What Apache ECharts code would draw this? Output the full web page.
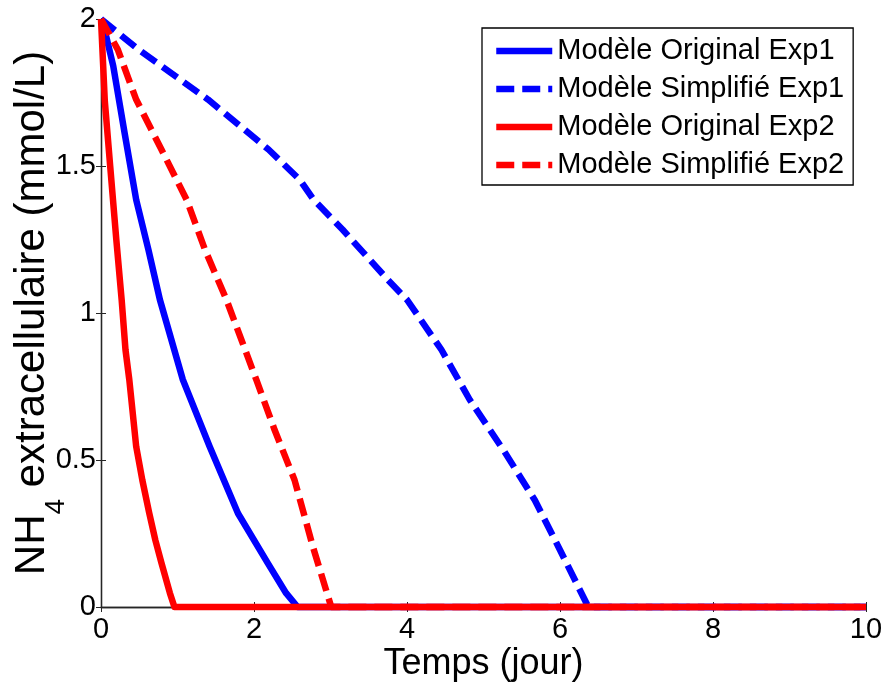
<!DOCTYPE html>
<html>
<head>
<meta charset="utf-8">
<script src="https://cdn.jsdelivr.net/npm/echarts@6/dist/echarts.min.js"></script>
<style>
html,body{margin:0;padding:0;background:#fff;}
#chart{width:883px;height:682px;}
</style>
</head>
<body>
<div id="chart"></div>
<script>
// Data
const seriesNames = ['Modèle Original Exp1', 'Modèle Simplifié Exp1', 'Modèle Original Exp2', 'Modèle Simplifié Exp2'];

const origExp1T = [0, 0.06, 0.16, 0.31, 0.46, 0.62, 0.77, 1.07, 1.42, 1.79, 2.18, 2.42, 2.57, 10];
const origExp1V = [2, 1.95, 1.84, 1.61, 1.385, 1.215, 1.045, 0.773, 0.546, 0.319, 0.149, 0.047, 0, 0];

const simpExp1T = [0, 0.49, 1.40, 2.19, 2.60, 2.78, 3.16, 3.75, 4.0, 4.45, 4.82, 5.26, 5.67, 6.0, 6.37, 10];
const simpExp1V = [2, 1.896, 1.726, 1.556, 1.453, 1.385, 1.283, 1.113, 1.045, 0.875, 0.705, 0.534, 0.364, 0.194, 0, 0];

const origExp2T = [0, 0.05, 0.12, 0.20, 0.27, 0.32, 0.37, 0.46, 0.54, 0.63, 0.71, 0.79, 0.90, 0.96, 10];
const origExp2V = [2, 1.72, 1.5, 1.25, 1.045, 0.875, 0.773, 0.546, 0.432, 0.32, 0.228, 0.15, 0.048, 0, 0];

const simpExp2T = [0, 0.22, 0.46, 0.79, 1.12, 1.36, 1.64, 2.03, 2.27, 2.53, 2.77, 3.01, 10];
const simpExp2V = [2, 1.896, 1.726, 1.556, 1.385, 1.215, 1.045, 0.773, 0.602, 0.432, 0.205, 0, 0];

const xTicks = [0, 2, 4, 6, 8, 10];
const yTicks = [0, 0.5, 1, 1.5, 2];

function pairs(t, v) { return t.map((x, i) => [x, v[i]]); }

const FONT = 'Liberation Sans, Arial, Helvetica, sans-serif';
const BLUE = '#0000ff';
const RED = '#ff0000';
const DASH = [18, 8];

const chart = echarts.init(document.getElementById('chart'), null, {renderer: 'canvas'});

function mkSeries(name, data, color, dashed) {
  return {
    name: name,
    type: 'line',
    data: data,
    xAxisIndex: 0,
    yAxisIndex: 0,
    symbol: 'none',
    showSymbol: false,
    smooth: false,
    clip: false,
    animation: false,
    lineStyle: {color: color, width: 6.5, type: dashed ? DASH : 'solid', cap: 'butt', join: 'round'},
    itemStyle: {color: color},
    emphasis: {disabled: true}
  };
}

const tickStyle = {show: true, inside: true, length: 5, lineStyle: {color: '#262626', width: 1}};
const lineStyleAx = {show: true, lineStyle: {color: '#262626', width: 1.3}};

const series = [
  mkSeries(seriesNames[0], pairs(origExp1T, origExp1V), BLUE, false),
  mkSeries(seriesNames[1], pairs(simpExp1T, simpExp1V), BLUE, true),
  mkSeries(seriesNames[2], pairs(origExp2T, origExp2V), RED, false),
  mkSeries(seriesNames[3], pairs(simpExp2T, simpExp2V), RED, true)
];

const option = {
  animation: false,
  backgroundColor: '#ffffff',
  grid: {left: 101, right: 17, top: 19, bottom: 75, containLabel: false, outerBoundsMode: 'none'},
  xAxis: [
    {
      type: 'value', min: xTicks[0], max: xTicks[xTicks.length - 1], interval: 2,
      position: 'bottom',
      axisLine: lineStyleAx, axisTick: tickStyle, splitLine: {show: false},
      axisLabel: {color: '#000', fontSize: 29, fontFamily: FONT, margin: 8},
      name: 'Temps (jour)', nameLocation: 'middle', nameGap: 39, nameMoveOverlap: false,
      nameTextStyle: {color: '#000', fontSize: 36, fontFamily: FONT}
    },
    {
      type: 'value', min: xTicks[0], max: xTicks[xTicks.length - 1], interval: 2,
      position: 'top',
      axisLine: lineStyleAx, axisTick: tickStyle, splitLine: {show: false},
      axisLabel: {show: false}
    }
  ],
  yAxis: [
    {
      type: 'value', min: yTicks[0], max: yTicks[yTicks.length - 1], interval: 0.5,
      position: 'left',
      axisLine: lineStyleAx, axisTick: tickStyle, splitLine: {show: false},
      axisLabel: {color: '#000', fontSize: 29, fontFamily: FONT, margin: 5},
      name: '{a|NH}{s|4}{a| extracellulaire (mmol/L)}',
      nameLocation: 'middle', nameGap: 48, nameMoveOverlap: false,
      nameTextStyle: {
        color: '#000', fontFamily: FONT,
        rich: {
          a: {fontSize: 42, lineHeight: 42, fontFamily: FONT, color: '#000', verticalAlign: 'top'},
          s: {fontSize: 28, lineHeight: 28, fontFamily: FONT, color: '#000', verticalAlign: 'top', padding: [31, 0, 0, 0]}
        }
      }
    },
    {
      type: 'value', min: yTicks[0], max: yTicks[yTicks.length - 1], interval: 0.5,
      position: 'right',
      axisLine: lineStyleAx, axisTick: tickStyle, splitLine: {show: false},
      axisLabel: {show: false}
    }
  ],
  legend: {
    orient: 'vertical',
    left: 482, top: 28,
    padding: [8, 9, 5, 11],
    itemGap: 8,
    itemWidth: 56, itemHeight: 14,
    itemStyle: {color: 'rgba(0,0,0,0)', borderColor: 'rgba(0,0,0,0)', borderWidth: 0, opacity: 0},
    lineStyle: {width: 6.5},
    backgroundColor: '#ffffff',
    borderColor: '#000000', borderWidth: 1.3, borderRadius: 0,
    textStyle: {color: '#000', fontSize: 29, fontFamily: FONT, lineHeight: 30},
    selectedMode: false,
    data: seriesNames
  },
  series: series
};
chart.setOption(option);
</script>
</body>
</html>
